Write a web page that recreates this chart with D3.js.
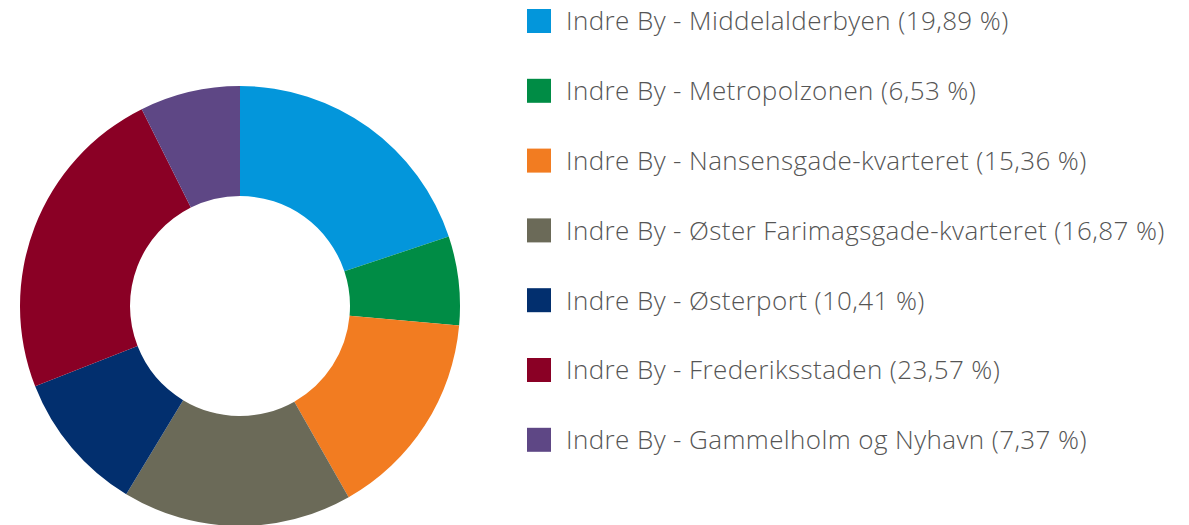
<!DOCTYPE html>
<html>
<head>
<meta charset="utf-8">
<script src="https://cdn.jsdelivr.net/npm/d3@7"></script>
<style>
  body { margin: 0; background: #fff; }
</style>
</head>
<body>
<svg id="chart"></svg>
<script>
const width = 1189;
const height = 525;

const categories = [
  "Indre By - Middelalderbyen",
  "Indre By - Metropolzonen",
  "Indre By - Nansensgade-kvarteret",
  "Indre By - Øster Farimagsgade-kvarteret",
  "Indre By - Østerport",
  "Indre By - Frederiksstaden",
  "Indre By - Gammelholm og Nyhavn"
];
const shares = [19.89, 6.53, 15.36, 16.87, 10.41, 23.57, 7.37];
const colors = ["#0396db", "#008c45", "#f27c21", "#6b6a58", "#022f6e", "#8a0025", "#5e4785"];

const svg = d3.select("#chart")
  .attr("width", width)
  .attr("height", height);

const data = categories.map((c, i) => ({ name: c, value: shares[i], color: colors[i] }));

const pie = d3.pie().sort(null).value(d => d.value);
const arc = d3.arc().innerRadius(110).outerRadius(220);

svg.append("g")
  .attr("transform", "translate(240,306)")
  .selectAll("path")
  .data(pie(data))
  .join("path")
  .attr("d", arc)
  .attr("fill", d => d.data.color);

const fmt = v => v.toFixed(2).replace(".", ",") + " %";

const legend = svg.append("g")
  .selectAll("g")
  .data(data)
  .join("g")
  .attr("transform", (d, i) => `translate(527,${21 + i * 69.8})`);

legend.append("rect")
  .attr("x", 0)
  .attr("y", -12)
  .attr("width", 24)
  .attr("height", 24)
  .attr("fill", d => d.color);

legend.append("text")
  .attr("x", 39)
  .attr("y", 0)
  .attr("dy", "0.36em")
  .style("font-family", "'Open Sans', sans-serif")
  .style("font-weight", 300)
  .style("font-size", "26px")
  .style("letter-spacing", "0.4px")
  .style("fill", "#555")
  .text(d => `${d.name} (${fmt(d.value)})`);
</script>
</body>
</html>
